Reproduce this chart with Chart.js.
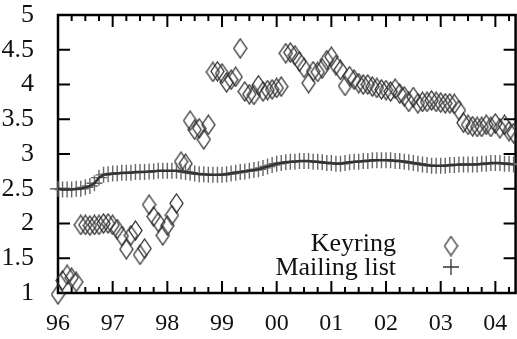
<!DOCTYPE html>
<html>
<head>
<meta charset="utf-8">
<script src="https://cdn.jsdelivr.net/npm/chart.js@4.4.1/dist/chart.umd.min.js"></script>
<style>
  html, body { margin: 0; padding: 0; background: #fff; overflow: hidden; }
</style>
</head>
<body>
<canvas id="chartKeys" width="525" height="339"></canvas>
<script>
// monthly samples, first one is January 1996
const startYear = 1996;
const yearLabels = ['96', '97', '98', '99', '00', '01', '02', '03', '04'];
const yTicks = [1, 1.5, 2, 2.5, 3, 3.5, 4, 4.5, 5];

const keyring = [
    0.98, 1.18, 1.26, 1.22, 1.16, 1.98, 1.98, 1.97, 1.98, 1.98, 2.00, 2.00,
    1.98, 1.92, 1.82, 1.63, 1.83, 1.90, 1.55, 1.64, 2.27, 2.10, 2.02, 1.83,
    1.97, 2.12, 2.29, 2.89, 2.86, 3.48, 3.35, 3.37, 3.21, 3.42, 4.18, 4.19,
    4.16, 4.03, 4.07, 4.11, 4.52, 3.90, 3.86, 3.85, 3.99, 3.90, 3.92, 3.93,
    3.95, 3.97, 4.45, 4.46, 4.42, 4.33, 4.24, 4.02, 4.19, 4.18, 4.23, 4.35,
    4.40, 4.28, 4.21, 3.98, 4.12, 4.07, 4.02, 4.00, 4.00, 3.97, 3.95, 3.93,
    3.92, 3.90, 3.94, 3.87, 3.83, 3.75, 3.82, 3.73, 3.75, 3.75, 3.77, 3.75,
    3.74, 3.73, 3.73, 3.72, 3.63, 3.45, 3.42, 3.40, 3.39, 3.39, 3.42, 3.39,
    3.44, 3.37, 3.42, 3.33, 3.30
];

const mailingList = [
    2.50, 2.49, 2.49, 2.49, 2.50, 2.50, 2.52, 2.54, 2.58, 2.66, 2.70, 2.71,
    2.72, 2.72, 2.73, 2.73, 2.73, 2.74, 2.74, 2.74, 2.75, 2.75, 2.76, 2.76,
    2.76, 2.76, 2.76, 2.75, 2.74, 2.73, 2.72, 2.71, 2.71, 2.70, 2.70, 2.70,
    2.70, 2.71, 2.72, 2.73, 2.74, 2.75, 2.76, 2.77, 2.78, 2.80, 2.82, 2.84,
    2.86, 2.87, 2.88, 2.89, 2.89, 2.90, 2.90, 2.90, 2.89, 2.89, 2.88, 2.87,
    2.87, 2.86, 2.86, 2.87, 2.88, 2.89, 2.89, 2.90, 2.90, 2.91, 2.91, 2.91,
    2.91, 2.91, 2.90, 2.90, 2.89, 2.88, 2.87, 2.86, 2.85, 2.84, 2.83, 2.83,
    2.83, 2.83, 2.84, 2.84, 2.85, 2.85, 2.85, 2.85, 2.85, 2.86, 2.86, 2.87,
    2.87, 2.87, 2.86, 2.86, 2.85
];

const serif = '"Liberation Serif", "DejaVu Serif", serif';

function toPoints(values) {
    return values.map((v, i) => ({ x: startYear + i / 12, y: v }));
}

// open diamond, a little taller than wide
function makeDiamond() {
    const c = document.createElement('canvas');
    c.width = 15;
    c.height = 21;
    const g = c.getContext('2d');
    g.strokeStyle = '#2e2e2e';
    g.lineWidth = 1.3;
    g.beginPath();
    g.moveTo(7.5, 1);
    g.lineTo(14, 10.5);
    g.lineTo(7.5, 20);
    g.lineTo(1, 10.5);
    g.closePath();
    g.stroke();
    return c;
}
const diamond = makeDiamond();

// border with inward ticks on all four sides
const frame = {
    id: 'frame',
    beforeDatasetsDraw(chart) {
        const { ctx, chartArea: a, scales: { x, y } } = chart;
        ctx.save();
        ctx.strokeStyle = '#000';
        ctx.lineWidth = 2;
        ctx.beginPath();
        for (let q = 0; startYear + q / 4 <= x.max; q++) {
            const px = x.getPixelForValue(startYear + q / 4);
            const len = q % 4 === 0 ? 12 : 6;
            ctx.moveTo(px, a.bottom);
            ctx.lineTo(px, a.bottom - len);
            ctx.moveTo(px, a.top);
            ctx.lineTo(px, a.top + len);
        }
        yTicks.forEach(v => {
            const py = y.getPixelForValue(v);
            ctx.moveTo(a.left, py);
            ctx.lineTo(a.left + 12, py);
            ctx.moveTo(a.right, py);
            ctx.lineTo(a.right - 12, py);
        });
        ctx.stroke();
        ctx.lineWidth = 2.5;
        ctx.strokeRect(a.left, a.top, a.right - a.left, a.bottom - a.top);
        ctx.restore();
    }
};

// gnuplot style key: label right aligned, sample on the right
const key = {
    id: 'key',
    afterDraw(chart) {
        const ctx = chart.ctx;
        const textX = 396, markX = 451;
        ctx.save();
        ctx.font = '26px ' + serif;
        ctx.fillStyle = '#111';
        ctx.textAlign = 'right';
        ctx.textBaseline = 'middle';
        ctx.fillText('Keyring', textX, 244);
        ctx.fillText('Mailing list', textX, 268);
        ctx.drawImage(diamond, markX - 7.5, 246 - 10.5);
        ctx.strokeStyle = '#333';
        ctx.lineWidth = 1.3;
        ctx.beginPath();
        ctx.moveTo(markX - 8, 267);
        ctx.lineTo(markX + 8, 267);
        ctx.moveTo(markX, 259);
        ctx.lineTo(markX, 275);
        ctx.stroke();
        ctx.restore();
    }
};

const chart = new Chart(document.getElementById('chartKeys'), {
    type: 'scatter',
    data: {
        datasets: [
            {
                label: 'Mailing list',
                data: toPoints(mailingList),
                showLine: true,
                borderColor: '#333',
                borderWidth: 2.5,
                pointRadius: 0,
                clip: false
            },
            {
                label: 'Mailing list',
                data: toPoints(mailingList),
                showLine: false,
                pointStyle: 'cross',
                pointRadius: 8,
                borderColor: '#666',
                pointBorderWidth: 1.4,
                clip: false
            },
            {
                label: 'Keyring',
                data: toPoints(keyring),
                showLine: false,
                pointStyle: diamond,
                clip: false
            }
        ]
    },
    options: {
        responsive: false,
        animation: false,
        events: [],
        layout: { padding: { left: 0, top: 15, right: 4, bottom: 0 } },
        plugins: { legend: { display: false }, tooltip: { enabled: false } },
        scales: {
            x: {
                type: 'linear',
                min: 1996,
                max: 2004.37,
                grid: { display: false },
                border: { display: false },
                afterBuildTicks: s => { s.ticks = yearLabels.map((_, k) => ({ value: startYear + k })); },
                afterFit: s => { s.height = 46; s.paddingLeft = 0; s.paddingRight = 0; },
                ticks: {
                    autoSkip: false,
                    maxRotation: 0,
                    padding: 8,
                    color: '#111',
                    font: { family: serif, size: 24 },
                    callback: (v, idx) => yearLabels[idx]
                }
            },
            y: {
                min: 1,
                max: 5,
                grid: { display: false },
                border: { display: false },
                afterBuildTicks: s => { s.ticks = yTicks.map(v => ({ value: v })); },
                afterFit: s => { s.width = 58; s.paddingTop = 0; s.paddingBottom = 0; },
                ticks: {
                    padding: 16,
                    color: '#111',
                    font: { family: serif, size: 26 },
                    callback: v => String(v)
                }
            }
        }
    },
    plugins: [frame, key]
});
</script>
</body>
</html>
